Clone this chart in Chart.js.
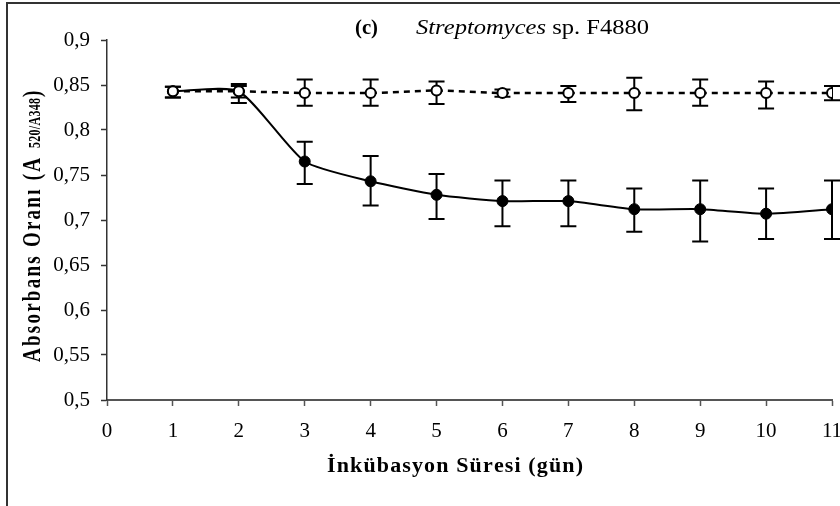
<!DOCTYPE html>
<html>
<head>
<meta charset="utf-8">
<script src="https://cdn.jsdelivr.net/npm/chart.js@4.4.1/dist/chart.umd.min.js"></script>
<style>
  html, body { margin: 0; padding: 0; background: #fff; }
  canvas { display: block; }
</style>
</head>
<body>
<canvas id="myChart" width="840" height="506"></canvas>
<script>
// days
var days = [1, 2, 3, 4, 5, 6, 7, 8, 9, 10, 11]

// filled circles (solid, smoothed line)
var filledMean = [0.843, 0.843, 0.765, 0.743, 0.728, 0.721, 0.721, 0.712, 0.712, 0.707, 0.712]
var filledHigh = [0.848, 0.851, 0.787, 0.771, 0.751, 0.744, 0.744, 0.735, 0.744, 0.735, 0.744]
var filledLow  = [0.836, 0.830, 0.740, 0.716, 0.701, 0.693, 0.693, 0.687, 0.676, 0.679, 0.679]

// open circles (dashed line)
var openMean = [0.843, 0.843, 0.841, 0.841, 0.844, 0.841, 0.841, 0.841, 0.841, 0.841, 0.841]
var openHigh = [0.848, 0.849, 0.856, 0.856, 0.854, 0.845, 0.849, 0.858, 0.856, 0.854, 0.849]
var openLow  = [0.836, 0.836, 0.827, 0.827, 0.829, 0.837, 0.831, 0.822, 0.827, 0.824, 0.833]

var xTitle = "İnkübasyon Süresi (gün)"
var yTitle = "Absorbans Oranı (A"
var yTitleSub = "520/A348"
var titleTag = "(c)"
var titleGenus = "Streptomyces"
var titleRest = " sp. F4880"

var serif = "'Liberation Serif', 'Times New Roman', serif"

function points(means){
	var out = []
	for (var i = 0; i < days.length; i++) out.push({x: days[i], y: means[i]})
	return out
}

// draws text char by char with extra spacing
function drawSpaced(ctx, text, x, y, spacing){
	var chars = Array.from(text)
	for (var i = 0; i < chars.length; i++){
		ctx.fillText(chars[i], x, y)
		x += ctx.measureText(chars[i]).width + spacing
	}
	return x
}
function spacedWidth(ctx, text, spacing){
	var chars = Array.from(text)
	var w = 0
	for (var i = 0; i < chars.length; i++) w += ctx.measureText(chars[i]).width
	return w + spacing * (chars.length - 1)
}

var errorBars = {
	id: 'errorBars',
	beforeDatasetsDraw: function(chart){
		var ctx = chart.ctx
		var xs = chart.scales.x, ys = chart.scales.y
		var sets = [[filledHigh, filledLow], [openHigh, openLow]]
		ctx.save()
		ctx.strokeStyle = '#000'
		ctx.lineWidth = 2
		sets.forEach(function(s){
			for (var i = 0; i < days.length; i++){
				var px = xs.getPixelForValue(days[i])
				var top = ys.getPixelForValue(s[0][i])
				var bot = ys.getPixelForValue(s[1][i])
				ctx.beginPath()
				ctx.moveTo(px, top); ctx.lineTo(px, bot)
				ctx.moveTo(px - 8, top); ctx.lineTo(px + 8, top)
				ctx.moveTo(px - 8, bot); ctx.lineTo(px + 8, bot)
				ctx.stroke()
			}
		})
		ctx.restore()
	}
}

var decorations = {
	id: 'decorations',
	afterDraw: function(chart){
		var ctx = chart.ctx
		ctx.save()
		// outer frame (only top and left visible)
		ctx.strokeStyle = '#333'
		ctx.lineWidth = 2
		ctx.beginPath()
		ctx.moveTo(7, 506); ctx.lineTo(7, 3); ctx.lineTo(840, 3)
		ctx.stroke()

		ctx.fillStyle = '#000'
		ctx.textBaseline = 'alphabetic'

		// title
		ctx.font = 'bold 22px ' + serif
		var wTag = ctx.measureText(titleTag).width
		ctx.save()
		ctx.translate(355, 34)
		ctx.scale(23 / wTag, 1)
		ctx.fillText(titleTag, 0, 0)
		ctx.restore()

		ctx.font = 'italic 22px ' + serif
		var wGen = ctx.measureText(titleGenus).width
		ctx.font = '22px ' + serif
		var wRest = ctx.measureText(titleRest).width
		var sx = 233 / (wGen + wRest)
		ctx.save()
		ctx.translate(416, 34)
		ctx.scale(sx, 1)
		ctx.font = 'italic 22px ' + serif
		ctx.fillText(titleGenus, 0, 0)
		ctx.font = '22px ' + serif
		ctx.fillText(titleRest, wGen, 0)
		ctx.restore()

		// x axis title, a bit stretched and spaced
		ctx.save()
		ctx.translate(327, 472)
		ctx.scale(1.1, 1)
		ctx.font = 'bold 20px ' + serif
		var w0 = spacedWidth(ctx, xTitle, 0)
		var sp = (256 / 1.1 - w0) / (Array.from(xTitle).length - 1)
		drawSpaced(ctx, xTitle, 0, 0, sp)
		ctx.restore()

		// y axis title, rotated, stretched across
		ctx.save()
		ctx.translate(40, 362)
		ctx.scale(1.35, 1)
		ctx.rotate(-Math.PI / 2)
		ctx.font = 'bold 19px ' + serif
		var wy = spacedWidth(ctx, yTitle, 0)
		var spy = (204 - wy) / (Array.from(yTitle).length - 1)
		drawSpaced(ctx, yTitle, 0, 0, spy)
		ctx.font = 'bold 12px ' + serif
		var ws = spacedWidth(ctx, yTitleSub, 0)
		var sps = (50 - ws) / (Array.from(yTitleSub).length - 1)
		drawSpaced(ctx, yTitleSub, 214, 0, sps)
		ctx.font = 'bold 19px ' + serif
		ctx.fillText(')', 265, 0)
		ctx.restore()

		ctx.restore()
	}
}

var tickFont = {family: serif, size: 21}

var ctx = document.getElementById("myChart").getContext('2d')
var chart = new Chart(ctx, {
	type: 'line',
	data: {
		datasets: [
			{
				label: 'open',
				data: points(openMean),
				borderColor: '#000',
				borderWidth: 2.5,
				borderDash: [6, 5],
				tension: 0,
				fill: false,
				pointRadius: 5,
				pointBorderWidth: 2,
				pointBorderColor: '#000',
				pointBackgroundColor: '#fff'
			},
			{
				label: 'filled',
				data: points(filledMean),
				borderColor: '#000',
				borderWidth: 2,
				tension: 0.2,
				fill: false,
				pointRadius: 5.5,
				pointBorderWidth: 1,
				pointBorderColor: '#000',
				pointBackgroundColor: '#000'
			}
		]
	},
	options: {
		responsive: false,
		animation: false,
		events: [],
		layout: {padding: {left: 0, right: 8, top: 40, bottom: 0}},
		plugins: {
			legend: {display: false},
			tooltip: {enabled: false}
		},
		scales: {
			x: {
				type: 'linear',
				min: 0,
				max: 11,
				ticks: {stepSize: 1, color: '#000', font: tickFont, padding: 13, maxRotation: 0, autoSkip: false},
				grid: {drawOnChartArea: false, tickLength: 6, color: '#555', tickWidth: 1.5},
				border: {color: '#555', width: 2},
				afterFit: function(s){ s.height = 106; s.paddingLeft = 0; s.paddingRight = 0 }
			},
			y: {
				min: 0.5,
				max: 0.9,
				ticks: {
					stepSize: 0.05,
					color: '#000',
					font: tickFont,
					padding: 11,
					callback: function(v){ return (Math.round(v * 100) / 100).toString().replace('.', ',') }
				},
				grid: {drawOnChartArea: false, tickLength: 6, color: '#333', tickWidth: 1.5},
				border: {color: '#333', width: 1.5},
				afterFit: function(s){ s.width = 107; s.paddingTop = 0; s.paddingBottom = 0 }
			}
		}
	},
	plugins: [errorBars, decorations]
})
</script>
</body>
</html>
